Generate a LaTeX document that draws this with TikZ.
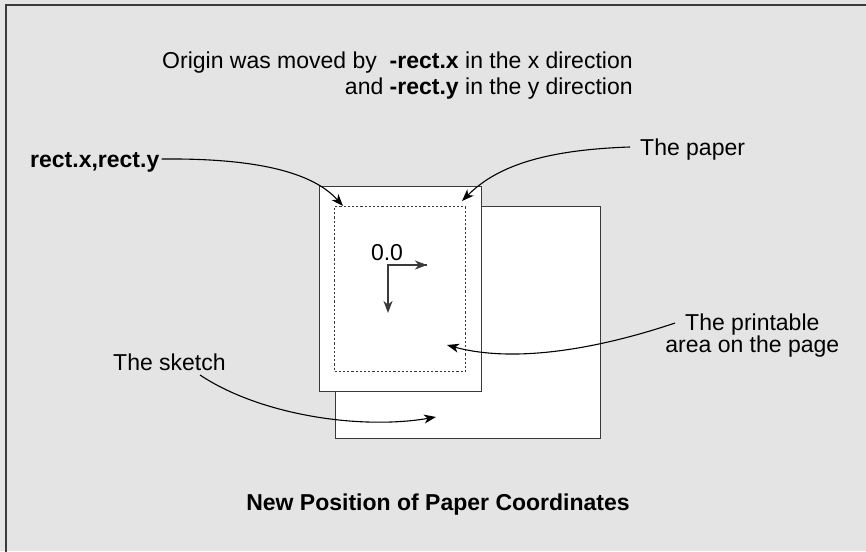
\documentclass[tikz,border=0pt]{standalone}
\usepackage{fontspec}
\setmainfont{Liberation Sans}
\usetikzlibrary{arrows.meta}
\definecolor{bg}{HTML}{E4E4E4}
\definecolor{edge}{HTML}{3A3A3A}
\tikzset{
  txt/.style={inner sep=0pt, font=\fontsize{23}{27}\selectfont, text=black},
  boldtxt/.style={txt, font=\fontsize{23}{27}\selectfont\bfseries},
  arr/.style={-{Stealth[length=12pt,width=9pt,inset=3.5pt]}, line width=1.1pt, black},
  box/.style={draw=edge, fill=white, line width=1.4pt},
}
\begin{document}
\begin{tikzpicture}[x=1pt,y=-1pt]
\useasboundingbox (0,0) rectangle (866,551);
\fill[bg] (0,0) rectangle (866,551);
\draw[edge, line width=2pt] (6,560) -- (6,5) -- (870,5);

% rectangles
\node[box, minimum width=265pt, minimum height=232pt, anchor=north west, inner sep=0pt] (sketch) at (335,206) {};
\node[box, minimum width=162pt, minimum height=205pt, anchor=north west, inner sep=0pt] (paper) at (319,186) {};
\node[draw=edge, dash pattern=on 2.2pt off 2pt, line width=1.2pt, minimum width=131pt, minimum height=165pt, anchor=north west, inner sep=0pt] (print) at (334,206) {};

% origin axes
\node[txt, anchor=base] (zero) at (387,260) {0.0};
\coordinate (o) at (388,265);
\coordinate (ox) at (427,265);
\coordinate (oy) at (388,313);
\draw[arr, edge, line width=1.4pt] (ox) -- (o) -- (oy);
\draw[arr, edge, line width=1.4pt] (o) -- (ox);

% texts
\node[txt, anchor=base west] (l1) at (162,68) {Origin was moved by\ \ \textbf{-rect.x} in the x direction};
\node[txt, anchor=base east] (l2) at (l1.base east |- 0,94) {and \textbf{-rect.y} in the y direction};
\node[boldtxt, anchor=base west] (rxy) at (30,167) {rect.x,rect.y};
\node[txt, anchor=base west] (tp) at (640,155) {The paper};
\node[txt, anchor=base west] (pa1) at (685,330) {The printable};
\node[txt, anchor=base] (pa2) at (pa1.base |- 0,352) {area on the page};
\node[txt, anchor=base west] (sk) at (113,370) {The sketch};
\node[boldtxt, anchor=base] (title) at (438,510) {New Position of Paper Coordinates};

% connector ends
\coordinate (s1) at ([xshift=2pt,yshift=8pt]rxy.base east);
\coordinate (s2) at ([xshift=-10pt,yshift=8pt]tp.base west);
\coordinate (s3) at ([xshift=-10pt,yshift=7pt]pa1.base west);
\coordinate (s4) at (200,375);
\coordinate (t1) at (343,206);
\coordinate (t2) at (462,201);
\coordinate (t3) at (447,345);
\coordinate (t4) at (436,417);

% connectors
\draw[arr] (s1) .. controls (265,158) and (315,175) .. (t1);
\draw[arr] (s2) .. controls (540,150) and (495,168) .. (t2);
\draw[arr] (s3) .. controls (610,345) and (520,365) .. (t3);
\draw[arr] (s4) .. controls (260,415) and (360,430) .. (t4);
\end{tikzpicture}
\end{document}
